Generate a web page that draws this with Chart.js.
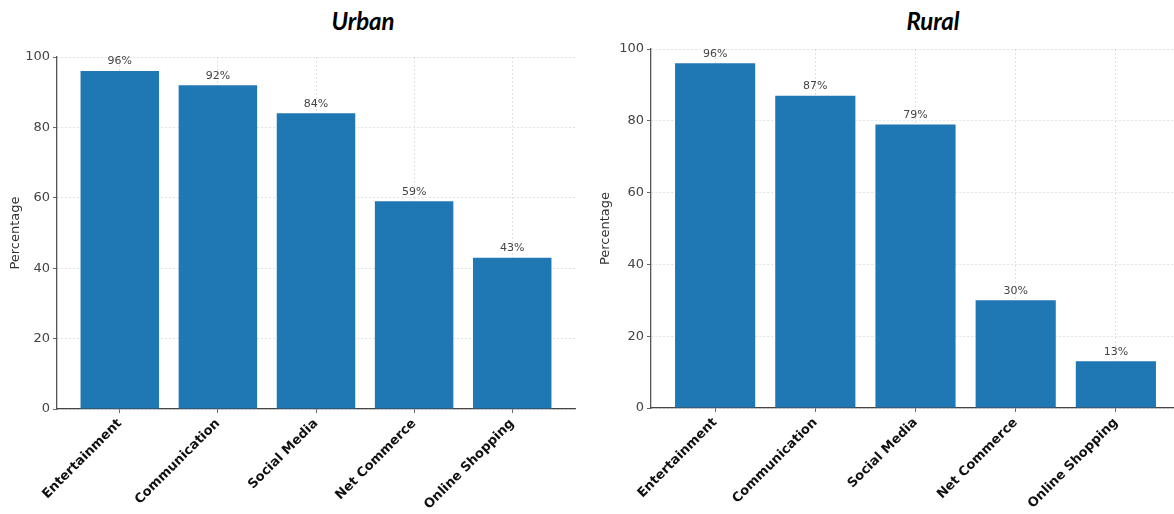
<!DOCTYPE html>
<html>
<head>
<meta charset="utf-8">
<script src="https://cdn.jsdelivr.net/npm/chart.js@4"></script>
<style>
  html, body { margin: 0; padding: 0; background: #fff; overflow: hidden; width: 1174px; height: 514px; }
  .wrap { position: absolute; top: 0; }
  .title { position: absolute; top: 6px; font-family: Lato, "Open Sans", sans-serif; font-weight: 700; font-style: italic; font-size: 24px; color: #000; transform: translateX(-50%); white-space: nowrap; }
</style>
</head>
<body>
<div class="title" style="left:363px">Urban</div>
<div class="title" style="left:933px">Rural</div>
<div class="wrap" style="left:0px"><canvas id="urban" width="590" height="514"></canvas></div>
<div class="wrap" style="left:590px"><canvas id="rural" width="600" height="514"></canvas></div>
<script>
const categories = ['Entertainment', 'Communication', 'Social Media', 'Net Commerce', 'Online Shopping'];
const urbanValues = [96, 92, 84, 59, 43];
const ruralValues = [96, 87, 79, 30, 13];
const yTicks = [0, 20, 40, 60, 80, 100];
const yAxisTitle = 'Percentage';

Chart.defaults.font.family = 'DejaVu Sans';

const valueLabels = {
  id: 'valueLabels',
  afterDraw(chart) {
    const ctx = chart.ctx;
    const meta = chart.getDatasetMeta(0);
    const vals = chart.data.datasets[0].data;
    ctx.save();
    ctx.font = '11px "DejaVu Sans"';
    ctx.fillStyle = '#444';
    ctx.textAlign = 'center';
    ctx.textBaseline = 'bottom';
    meta.data.forEach((bar, i) => {
      ctx.fillText(vals[i].y + '%', bar.x, bar.y - 4);
    });
    ctx.restore();
  }
};

function makeChart(id, values, L) {
  return new Chart(document.getElementById(id), {
    type: 'bar',
    data: {
      datasets: [{
        data: values.map((v, i) => ({ x: i, y: v })),
        backgroundColor: '#1f77b4',
        borderWidth: 0,
        barPercentage: 0.8,
        categoryPercentage: 1.0
      }]
    },
    options: {
      responsive: false,
      animation: false,
      devicePixelRatio: 1,
      layout: { padding: { left: 0, top: L.top, right: L.right, bottom: 0 } },
      plugins: { legend: { display: false }, tooltip: { enabled: false } },
      scales: {
        x: {
          type: 'linear',
          min: -0.64,
          max: 4.64,
          offset: false,
          z: 1,
          afterFit(s) { s.height = L.xHeight; },
          border: { display: true, color: '#444', width: 1.3, dash: [2, 2] },
          grid: { offset: false, color: 'rgba(170,170,170,0.45)', lineWidth: 0.8, tickColor: '#444', tickLength: 4, tickBorderDash: [] },
          ticks: {
            stepSize: 1,
            includeBounds: false,
            autoSkip: false,
            maxRotation: 45,
            minRotation: 45,
            padding: 3,
            color: '#111',
            font: { size: 13, weight: 'bold' },
            callback: (v) => Number.isInteger(v) && categories[v] !== undefined ? categories[v] : ''
          }
        },
        y: {
          min: 0,
          max: 100,
          z: 1,
          afterFit(s) { s.width = L.yWidth; },
          afterBuildTicks(s) { s.ticks = yTicks.map(v => ({ value: v })); },
          border: { display: true, color: '#555', width: 1.3, dash: [2, 2] },
          grid: { color: 'rgba(170,170,170,0.45)', lineWidth: 0.8, tickColor: '#444', tickLength: 4, tickBorderDash: [] },
          ticks: { stepSize: 20, padding: 3, color: '#444', font: { size: 13 } },
          title: { display: true, text: yAxisTitle, color: '#333', font: { size: 13 }, padding: { top: 8, bottom: 0 } }
        }
      }
    },
    plugins: [valueLabels]
  });
}

makeChart('urban', urbanValues, { top: 57, right: 15, yWidth: 57, xHeight: 105 });
makeChart('rural', ruralValues, { top: 49, right: 10, yWidth: 61, xHeight: 106 });
</script>
</body>
</html>
